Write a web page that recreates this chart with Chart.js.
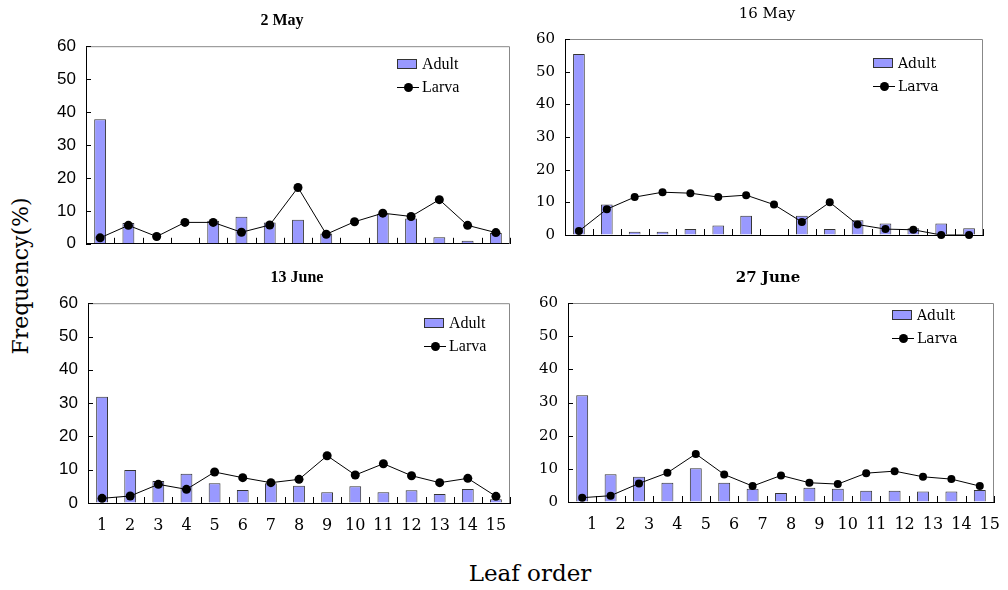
<!DOCTYPE html>
<html>
<head>
<meta charset="utf-8">
<script src="https://cdn.jsdelivr.net/npm/chart.js@4"></script>
<style>
  body { margin: 0; background: #fff; width: 1008px; height: 590px; position: relative; overflow: hidden; }
  canvas { position: absolute; }
  .txt { position: absolute; white-space: nowrap; color: #000; }
  .title { transform: translate(-50%, -50%); }
  .legend { position: absolute; }
  .legend .row { position: absolute; left: 0; white-space: nowrap; height: 20px; line-height: 20px; }
  .legend .box { position: absolute; left: 0; top: 5px; width: 20px; height: 10px; background: #9999ff; border: 1px solid #333; box-sizing: border-box; }
  .legend .ln { position: absolute; left: 0; top: 10px; width: 22px; height: 1px; background: #000; }
  .legend .dot { position: absolute; left: 7px; top: 6px; width: 9px; height: 9px; border-radius: 50%; background: #000; }
  .legend .lbl { position: absolute; left: 25px; top: 0; }
</style>
</head>
<body>

<div class="txt" style="left:20px; top:276px; transform: translate(-50%,-50%) rotate(-90deg); font-family:'DejaVu Serif'; font-size:22px;">Frequency(%)</div>
<div class="txt" style="left:530px; top:573px; transform: translate(-50%,-50%); font-family:'DejaVu Serif'; font-size:23px;">Leaf order</div>

<script>
// Data
const leafOrder = ['1','2','3','4','5','6','7','8','9','10','11','12','13','14','15'];
const yTicks = [0, 10, 20, 30, 40, 50, 60];

const adultMay2  = [37.8, 6.3, 0, 0, 7.0, 8.2, 6.5, 7.3, 3.1, 0, 9.1, 7.7, 2.0, 0.9, 3.3];
const larvaMay2  = [1.8, 5.6, 2.2, 6.5, 6.5, 3.5, 5.7, 17.1, 2.9, 6.7, 9.3, 8.3, 13.4, 5.6, 3.4];

const adultMay16 = [55.4, 9.3, 1.0, 1.0, 1.8, 2.9, 5.9, 0, 5.9, 1.8, 4.5, 3.5, 2.1, 3.5, 2.1];
const larvaMay16 = [1.2, 7.9, 11.6, 13.1, 12.8, 11.6, 12.2, 9.3, 4.0, 10.0, 3.2, 1.8, 1.6, 0, 0];

const adultJun13 = [31.9, 9.9, 6.6, 8.8, 5.9, 3.9, 5.9, 5.2, 3.2, 5.0, 3.2, 3.8, 2.7, 4.2, 1.1];
const larvaJun13 = [1.4, 2.1, 5.6, 4.1, 9.3, 7.6, 6.1, 7.1, 14.2, 8.4, 11.8, 8.2, 6.1, 7.4, 2.0];

const adultJun27 = [32.2, 8.4, 7.6, 5.8, 10.2, 5.8, 4.0, 2.7, 4.3, 4.0, 3.4, 3.4, 3.2, 3.2, 3.6];
const larvaJun27 = [1.3, 1.9, 5.6, 8.8, 14.5, 8.3, 4.8, 8.0, 5.8, 5.4, 8.7, 9.3, 7.6, 6.9, 4.8];

const SANS = "'Liberation Sans', Arial, sans-serif";
const SERIF_A = "'Liberation Serif', serif";
const SERIF_B = "'DejaVu Serif', serif";

const panels = [
  { title: '2 May', adult: adultMay2, larva: larvaMay2, L: 86, T: 38, R: 510, B: 252, xLabels: false,
    tickFont: SANS, tickSize: 17, titleFont: SERIF_A, titleBold: true, titleSize: 16, titleX: 282, titleY: 20,
    legFont: SERIF_A, legSize: 16, legX: 397, legY: 54, pointR: 4.5 },
  { title: '16 May', adult: adultMay16, larva: larvaMay16, L: 565, T: 32, R: 983, B: 242, xLabels: false,
    tickFont: SERIF_B, tickSize: 15, titleFont: SERIF_B, titleBold: false, titleSize: 15, titleX: 767, titleY: 13,
    legFont: SERIF_B, legSize: 14, legX: 873, legY: 53, pointR: 4 },
  { title: '13 June', adult: adultJun13, larva: larvaJun13, L: 88, T: 295, R: 510, B: 503, xLabels: true, labelOffset: 0,
    tickFont: SANS, tickSize: 17, xFont: SERIF_B, xSize: 16, titleFont: SERIF_A, titleBold: true, titleSize: 16, titleX: 297, titleY: 277,
    legFont: SERIF_A, legSize: 16, legX: 424, legY: 313, pointR: 4.5 },
  { title: '27 June', adult: adultJun27, larva: larvaJun27, L: 568, T: 296, R: 994, B: 502, xLabels: true, labelOffset: 10,
    tickFont: SERIF_B, tickSize: 15, xFont: SERIF_B, xSize: 16, titleFont: SERIF_B, titleBold: true, titleSize: 15, titleX: 768, titleY: 277,
    legFont: SERIF_B, legSize: 14, legX: 892, legY: 305, pointR: 4 }
];

// frame (grey top/right) and inward tick marks, like the original spreadsheet chart
const framePlugin = {
  id: 'frame',
  beforeDatasetsDraw(chart) {
    const { ctx, chartArea: a, scales } = chart;
    ctx.save();
    ctx.strokeStyle = '#888';
    ctx.lineWidth = 1;
    ctx.beginPath();
    ctx.moveTo(a.left, a.top + 0.5);
    ctx.lineTo(a.right - 0.5, a.top + 0.5);
    ctx.lineTo(a.right - 0.5, a.bottom);
    ctx.stroke();

    ctx.strokeStyle = '#000';
    ctx.beginPath();
    yTicks.forEach(v => {
      const y = Math.round(scales.y.getPixelForValue(v)) + 0.5;
      ctx.moveTo(a.left, y);
      ctx.lineTo(a.left + 5, y);
    });
    for (let i = 0; i <= leafOrder.length; i++) {
      const x = Math.round(scales.x.getPixelForValue(i - 0.5)) + 0.5;
      ctx.moveTo(x, a.bottom);
      ctx.lineTo(x, a.bottom - 6);
    }
    ctx.stroke();
    ctx.restore();
  }
};

panels.forEach((p, idx) => {
  const padTop = 12, padRight = 12, yW = 50;
  const xH = p.xLabels ? 40 : 12;
  const w = p.R - p.L + yW + padRight;
  const h = p.B - p.T + padTop + xH;

  const canvas = document.createElement('canvas');
  canvas.id = 'chart' + idx;
  canvas.style.left = (p.L - yW) + 'px';
  canvas.style.top = (p.T - padTop) + 'px';
  canvas.style.width = w + 'px';
  canvas.style.height = h + 'px';
  canvas.width = w;
  canvas.height = h;
  document.body.appendChild(canvas);

  // panel title
  const t = document.createElement('div');
  t.className = 'txt title';
  t.style.left = p.titleX + 'px';
  t.style.top = p.titleY + 'px';
  t.style.fontFamily = p.titleFont;
  t.style.fontSize = p.titleSize + 'px';
  t.style.fontWeight = p.titleBold ? 'bold' : 'normal';
  t.textContent = p.title;
  document.body.appendChild(t);

  // legend
  const leg = document.createElement('div');
  leg.className = 'legend';
  leg.style.left = p.legX + 'px';
  leg.style.top = p.legY + 'px';
  leg.style.fontFamily = p.legFont;
  leg.style.fontSize = p.legSize + 'px';
  leg.innerHTML =
    '<div class="row" style="top:0"><span class="box"></span><span class="lbl">Adult</span></div>' +
    '<div class="row" style="top:23px"><span class="ln"></span><span class="dot"></span><span class="lbl">Larva</span></div>';
  document.body.appendChild(leg);

  new Chart(canvas.getContext('2d'), {
    data: {
      labels: leafOrder,
      datasets: [
        {
          type: 'line',
          label: 'Larva',
          data: p.larva,
          borderColor: '#000',
          borderWidth: 1,
          backgroundColor: '#000',
          pointRadius: p.pointR,
          pointBackgroundColor: '#000',
          pointBorderWidth: 0,
          tension: 0,
          clip: false,
          order: 0
        },
        {
          type: 'bar',
          label: 'Adult',
          data: p.adult,
          backgroundColor: '#9999ff',
          borderColor: '#333',
          borderWidth: 1,
          categoryPercentage: 1,
          barPercentage: 0.42,
          order: 1
        }
      ]
    },
    options: {
      responsive: false,
      animation: false,
      events: [],
      layout: { padding: { top: padTop, right: padRight, left: 0, bottom: 0 } },
      plugins: { legend: { display: false }, tooltip: { enabled: false }, title: { display: false } },
      scales: {
        x: {
          type: 'category',
          offset: true,
          grid: { display: true, drawOnChartArea: false, drawTicks: false, color: 'rgba(0,0,0,0)' },
          border: { display: true, color: '#000', width: 1 },
          ticks: {
            display: p.xLabels,
            color: '#000',
            padding: 13,
            maxRotation: 0,
            autoSkip: false,
            labelOffset: p.labelOffset || 0,
            font: { family: p.xFont || p.tickFont, size: p.xSize || 15 }
          },
          afterFit(scale) { scale.height = xH; }
        },
        y: {
          min: 0,
          max: 60,
          grid: { display: true, drawOnChartArea: false, drawTicks: false, color: 'rgba(0,0,0,0)' },
          border: { display: true, color: '#000', width: 1 },
          ticks: {
            stepSize: 10,
            color: '#000',
            padding: 10,
            font: { family: p.tickFont, size: p.tickSize }
          },
          afterFit(scale) { scale.width = yW; }
        }
      }
    },
    plugins: [framePlugin]
  });
});
</script>
</body>
</html>
